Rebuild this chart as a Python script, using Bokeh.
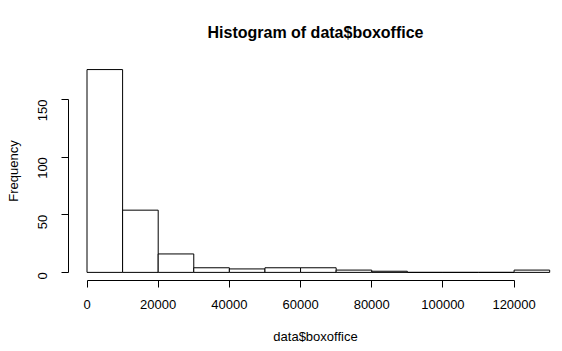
import math
from bokeh.plotting import figure
from bokeh.models import FixedTicker, Range1d, NumeralTickFormatter
from bokeh.embed import file_html
from bokeh.resources import INLINE

# Histogram data
bin_edges = [0, 10000, 20000, 30000, 40000, 50000, 60000, 70000,
             80000, 90000, 100000, 110000, 120000, 130000]
counts = [176, 54, 16, 4, 3, 4, 4, 2, 1, 0, 0, 0, 2]
x_ticks = [0, 20000, 40000, 60000, 80000, 100000, 120000]
y_ticks = [0, 50, 100, 150]

FONT = "Liberation Sans"

p = figure(width=562, height=351, output_backend="svg", toolbar_location=None,
           x_range=Range1d(-5200, 133600), y_range=Range1d(-7.04, 183.0),
           min_border_left=68, min_border_right=0, min_border_top=61,
           min_border_bottom=71, title="Histogram of data$boxoffice")

p.quad(left=bin_edges[:-1], right=bin_edges[1:], bottom=0, top=counts,
       fill_color="white", line_color="black", line_width=1)

p.outline_line_color = None
p.xgrid.visible = False
p.ygrid.visible = False
p.background_fill_color = "white"
p.border_fill_color = "white"

p.title.text_font = FONT
p.title.text_font_size = "16px"
p.title.text_font_style = "bold"
p.title.align = "center"
p.title.text_color = "black"
p.title.offset = 2
p.title.standoff = 42

xa = p.xaxis[0]
xa.ticker = FixedTicker(ticks=x_ticks)
xa.formatter = NumeralTickFormatter(format="0")
xa.bounds = (min(x_ticks), max(x_ticks))
xa.minor_tick_line_color = None
xa.major_tick_in = 0
xa.major_tick_out = 7
xa.major_label_standoff = 12
xa.axis_label_standoff = 17
xa.axis_label = "data$boxoffice"
xa.axis_label_text_font = FONT
xa.axis_label_text_font_style = "normal"
xa.axis_label_text_font_size = "13px"
xa.major_label_text_font = FONT
xa.major_label_text_font_size = "13px"
xa.axis_line_color = "black"
xa.major_tick_line_color = "black"
xa.major_label_text_color = "black"
xa.axis_label_text_color = "black"

ya = p.yaxis[0]
ya.ticker = FixedTicker(ticks=y_ticks)
ya.bounds = (min(y_ticks), max(y_ticks))
ya.minor_tick_line_color = None
ya.major_tick_in = 0
ya.major_tick_out = 7
ya.major_label_orientation = math.pi / 2
ya.major_label_standoff = 19
ya.axis_label = "Frequency"
ya.axis_label_standoff = 10
ya.axis_label_text_font = FONT
ya.axis_label_text_font_style = "normal"
ya.axis_label_text_font_size = "13px"
ya.major_label_text_font = FONT
ya.major_label_text_font_size = "13px"
ya.axis_line_color = "black"
ya.major_tick_line_color = "black"
ya.major_label_text_color = "black"
ya.axis_label_text_color = "black"

open("out.html", "w").write(file_html(p, INLINE))
